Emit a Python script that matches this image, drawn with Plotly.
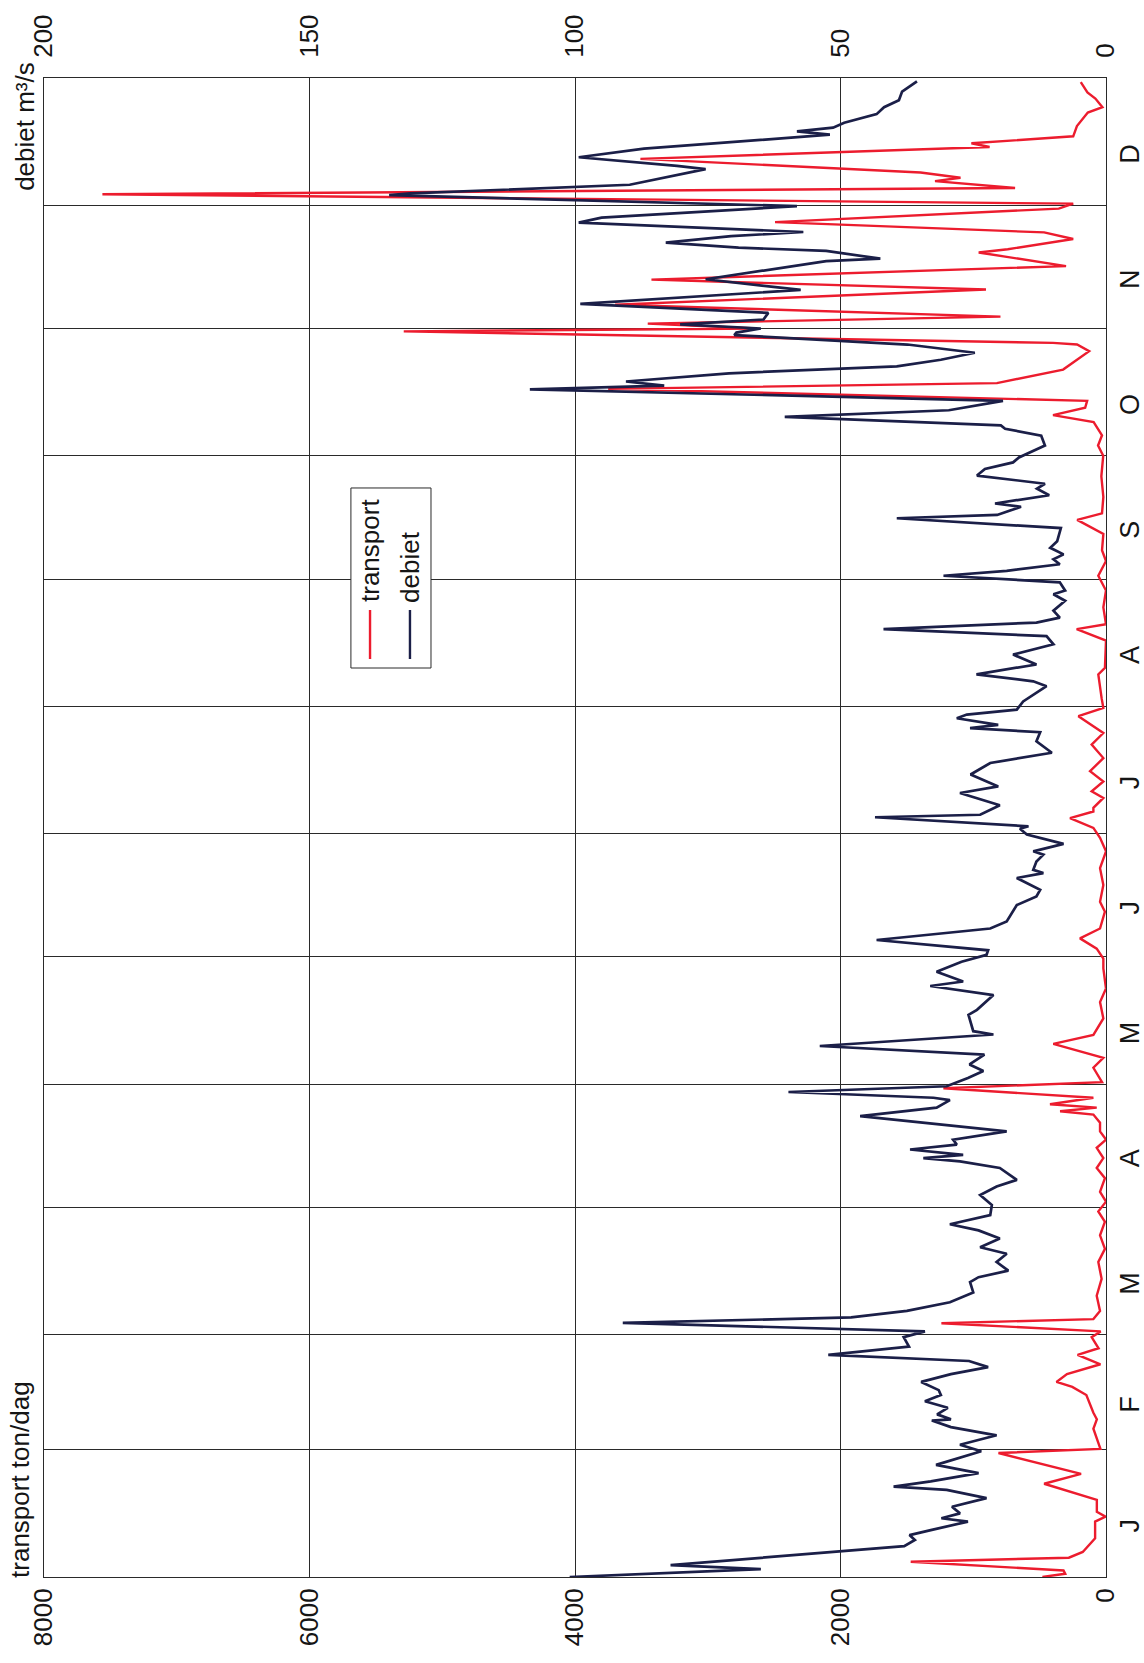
import plotly.graph_objects as go

# ---------------- data ----------------
month_labels = ["J", "F", "M", "A", "M", "J", "J", "A", "S", "O", "N", "D"]
month_starts = [0, 31, 59, 90, 120, 151, 181, 212, 243, 273, 304, 334, 365]
transport_ticks = [0, 2000, 4000, 6000, 8000]
debiet_ticks = [0, 50, 100, 150, 200]

debiet_day = [0, 1.9, 2.9, 7.5, 9.0, 10.2, 11.4, 13.5, 14.3, 15.5, 17.1, 19.2, 21.2, 22.0, 23.3, 25.3, 27.3, 29.4, 30.6,
              32.2, 34.5, 36.5, 38.1, 38.4, 39.6, 41.2, 42.8, 44.3, 45.5, 47.5, 49.4, 51.1, 52.6, 54.1, 56.1, 58.4, 59.8,
              61.9, 63.2, 64.8, 66.9, 69.3, 71.8, 73.0, 74.6, 76.7, 78.7, 80.3, 82.4, 84.4, 85.9, 88.1,
              90.6, 93.0, 95.1, 96.7, 99.6, 101.2, 102.0, 102.8, 104.1, 105.3, 106.5, 108.5, 110.2, 112.2, 114.3, 116.1, 116.7, 118.1, 119.5,
              121.5, 123.2, 124.8, 127.2, 129.3, 132.1, 132.9, 136.9, 138.1, 141.7, 143.9, 145.0, 147.4, 149.8,
              151.5, 152.6, 155.1, 157.9, 159.6, 163.6, 165.7, 167.3, 170.2, 171.4, 172.2, 174.2, 175.9, 176.7, 178.5, 180.8,
              182.2, 182.8, 185.0, 185.6, 187.9, 190.9, 192.5, 195.4, 198.2, 200.7, 203.5, 205.7, 206.7, 207.5, 209.1, 210.0, 211.2,
              213.2, 216.9, 218.1, 219.8, 222.2, 224.6, 227.1, 229.1, 230.8, 232.4, 233.6, 235.3, 237.7, 239.3, 240.2, 242.2,
              243.8, 245.0, 246.6, 247.8, 249.0, 250.6, 252.2, 255.4, 257.8, 258.6, 260.6, 261.4, 263.4, 265.0, 266.2, 268.2, 269.8, 271.4,
              272.6, 275.5, 277.9, 279.6, 280.4, 282.5, 284.1, 286.4, 289.2, 290.1, 291.1, 293.1, 294.8, 296.4, 298.1, 300.1, 302.4, 303.0,
              304.0, 305.0, 306.2, 307.8, 310.0, 313.4, 316.0, 320.4, 321.0, 322.9, 323.7, 324.9, 326.5, 327.5, 329.8, 331.0,
              333.8, 336.5, 336.9, 339.0, 342.8, 343.6, 345.7, 347.8, 351.2, 352.0, 352.9, 354.1, 356.2, 357.9, 359.6, 361.7, 364.2]

debiet = [101, 65, 82, 38, 36, 37, 33, 26, 31, 27.5, 29, 22.5, 30, 40, 33, 24, 32, 26.5, 23.5,
          27.5, 20.6, 29.2, 32.8, 29.2, 31.8, 29.8, 34.1, 31.1, 31.5, 34.8, 29.2, 22.2, 25.8, 52.3, 37.1, 38.1, 34.1,
          91, 48, 37.5, 29.4, 25.0, 25.6, 24.0, 18.4, 20.6, 18.7, 23.7, 20.0, 24.0, 29.4, 21.8,
          21.5, 23.7, 20.6, 16.8, 20.0, 27.5, 34.4, 26.9, 36.9, 28.1, 28.8, 18.7, 30.9, 46.3, 31.9, 29.4, 32.5, 59.8, 30,
          26, 23.1, 25.7, 22.9, 53.9, 21.2, 25.0, 25.9, 24.3, 21.2, 33.1, 26.9, 31.9, 27.2,
          22.5, 22.2, 43.2, 21.8, 18.7, 16.8, 13.1, 12.4, 16.8, 11.8, 13.7, 13.1, 11.8, 13.7, 8.0, 14.9,
          16.2, 14.6, 43.5, 23.7, 20.0, 27.5, 20.3, 25.5, 21.8, 10.2, 13.1, 12.4, 25.6, 20.3, 28.1, 26.2, 16.8,
          15.6, 11.2, 13.7, 24.4, 13.1, 17.5, 9.9, 11.2, 41.9, 13.1, 8.7, 9.9, 7.7, 9.9, 7.7, 8.7,
          30.6, 18.7, 8.7, 9.9, 8.0, 10.5, 9.2, 8.5, 39.4, 20.5, 16.0, 20.9, 10.7, 13.0, 11.5, 24.3, 22.8, 17.5,
          16.4, 11.5, 12.2, 19.0, 19.8, 60.5, 29.6, 19.4, 108.5, 83.2, 90.4, 71, 39.4, 31.1, 24.7, 37.4, 70, 69.6,
          65, 80.2, 64.5, 63.6, 99, 57.5, 75.4, 52.7, 42.5, 52.7, 69.2, 82.9, 70.6, 57, 99.3, 95,
          58.2, 135, 131, 89.7, 75.4, 80.8, 99.3, 87, 52, 58.2, 51.4, 49.3, 43.2, 41.8, 39, 38.4, 35.6]

transport_day = [0, 0.8, 1.6, 3.7, 4.7, 6.1, 9.4, 13.5, 14.7, 15.9, 18.8, 22.7, 25.1, 30.2,
                 31.2, 36.1, 38.4, 40.0, 44.3, 46.3, 47.5, 49.4, 51.8, 54.1, 55.7, 58.4,
                 59.8, 61.8, 62.8, 64.8, 68.5, 72.6, 76.7, 79.9, 83.2, 86.5, 89.0,
                 91.4, 93.8, 97.1, 99.6, 102.0, 104.5, 106.5, 108.5, 110.6, 112.6, 113.4, 114.3, 115.1, 116.7, 119.0,
                 120.5, 124.0, 126.4, 129.8, 132.0, 136.0, 140.0, 143.3, 148.2, 150.6,
                 153.0, 155.5, 157.9, 162.0, 164.4, 168.5, 172.6, 176.7, 180.0,
                 182.4, 184.8, 186.4, 187.3, 189.7, 191.3, 193.7, 196.2, 199.4, 202.7, 205.5, 209.6, 211.6,
                 214.0, 219.8, 221.4, 228.0, 230.8, 232.0, 236.1, 240.2,
                 243.8, 247.4, 250.0, 254.0, 257.4, 259.0, 263.0, 268.0,
                 273.0, 275.5, 278.0, 281.2, 282.9, 284.7, 286.4, 289.3, 290.7, 294.0, 298.5, 300.1, 300.5, 303.3,
                 304.0, 305.2, 306.9, 309.8, 313.5, 315.9, 319.2, 322.5, 323.3, 325.8, 327.4, 329.9, 333.2,
                 334.4, 336.7, 338.2, 339.9, 340.7, 342.0, 345.3, 348.2, 349.1, 350.8, 353.3, 356.6, 357.9, 360.0, 361.5, 364.0]

transport = [479, 307, 320, 1471, 280, 175, 82, 82, 3, 69, 69, 466, 188, 810,
             42, 95, 69, 95, 148, 254, 373, 294, 42, 214, 56, 108,
             40, 1240, 95, 45, 70, 33, 58, 8, 45, 8, 58,
             0, 45, 8, 70, 20, 70, 0, 45, 45, 95, 346, 70, 422, 95, 1225,
             30, 95, 20, 397, 95, 20, 45, 0, 20, 20,
             70, 196, 45, 8, 45, 20, 45, 0, 45,
             95, 271, 95, 95, 20, 108, 20, 120, 20, 108, 20, 208, 20,
             33, 58, 8, 0, 221, 0, 20, 0,
             58, 0, 30, 20, 217, 30, 20, 35,
             21, 60, 30, 93, 399, 157, 142, 3750, 822, 323, 127, 218, 399, 5290,
             2630, 3452, 795, 3698, 904, 3424, 301, 959, 740, 247, 466, 2493, 356,
             247, 7560, 685, 1288, 1096, 1397, 3507, 877, 1014, 247, 219, 137, 27, 80, 140, 190]

# ---------------- styling ----------------
RED = "#ec1c2e"
NAVY = "#1b1f48"
GRID = "#2a2a2a"
TXT = "#151515"
FONT = "Arial, Liberation Sans, sans-serif"

month_tickvals = [(month_starts[i] + month_starts[i + 1]) / 2 - 4 for i in range(12)]

fig = go.Figure()
fig.add_trace(go.Scatter(x=transport, y=transport_day, xaxis="x", yaxis="y", mode="lines",
                         line=dict(color=RED, width=2.4), name="transport", hoverinfo="skip"))
fig.add_trace(go.Scatter(x=debiet, y=debiet_day, xaxis="x2", yaxis="y", mode="lines",
                         line=dict(color=NAVY, width=2.7), name="debiet", hoverinfo="skip"))

fig.update_layout(
    width=1144, height=1663,
    margin=dict(l=44, r=38, t=78, b=86, autoexpand=False),
    paper_bgcolor="white", plot_bgcolor="white",
    showlegend=False,
    font=dict(family=FONT, size=26, color=TXT),
    xaxis=dict(range=[8000, 0], tickmode="array", tickvals=transport_ticks, tickangle=-90,
               showgrid=True, gridcolor=GRID, gridwidth=1, zeroline=False,
               showline=True, linecolor=GRID, linewidth=1, mirror=True, automargin=False,
               ticks="",
               tickfont=dict(family=FONT, size=26, color=TXT)),
    xaxis2=dict(range=[200, 0], overlaying="x", side="top", tickmode="array", tickvals=debiet_ticks,
                tickangle=-90, showgrid=False, zeroline=False, automargin=False,
                ticks="outside", ticklen=14, tickcolor="rgba(0,0,0,0)",
                tickfont=dict(family=FONT, size=26, color=TXT)),
    yaxis=dict(range=[0, 365], side="right", tickmode="array", tickvals=month_tickvals,
               ticktext=month_labels, tickangle=-90, showgrid=False, zeroline=False,
               showline=True, linecolor=GRID, linewidth=1, mirror=True, automargin=False,
               ticks="",
               tickfont=dict(family=FONT, size=27, color=TXT),
               minor=dict(tickmode="array", tickvals=month_starts, showgrid=True,
                          gridcolor=GRID, gridwidth=1, ticks="")),
)

# axis titles (rotated, like the rest of the chart)
fig.add_annotation(text="transport ton/dag", xref="paper", yref="paper", x=-0.0226, y=0.0654,
                   textangle=-90, showarrow=False, xanchor="center", yanchor="middle",
                   font=dict(family=FONT, size=26, color=TXT))
fig.add_annotation(text="debiet m³/s", xref="paper", yref="paper", x=-0.018, y=0.968,
                   textangle=-90, showarrow=False, xanchor="center", yanchor="middle",
                   font=dict(family=FONT, size=26, color=TXT))

# rotated legend box drawn by hand
fig.add_shape(type="rect", xref="paper", yref="paper", x0=0.289, x1=0.3644, y0=0.6064, y1=0.7265,
              line=dict(color=GRID, width=1), fillcolor="white", layer="above")
fig.add_shape(type="line", xref="paper", yref="paper", x0=0.307, x1=0.307, y0=0.6124, y1=0.6451,
              line=dict(color=RED, width=2.4), layer="above")
fig.add_shape(type="line", xref="paper", yref="paper", x0=0.3446, x1=0.3446, y0=0.6124, y1=0.6451,
              line=dict(color=NAVY, width=2.4), layer="above")
fig.add_annotation(text="transport", xref="paper", yref="paper", x=0.307, y=0.6845,
                   textangle=-90, showarrow=False, xanchor="center", yanchor="middle",
                   font=dict(family=FONT, size=26, color=TXT))
fig.add_annotation(text="debiet", xref="paper", yref="paper", x=0.3446, y=0.6738,
                   textangle=-90, showarrow=False, xanchor="center", yanchor="middle",
                   font=dict(family=FONT, size=26, color=TXT))

fig.write_html("out.html")
